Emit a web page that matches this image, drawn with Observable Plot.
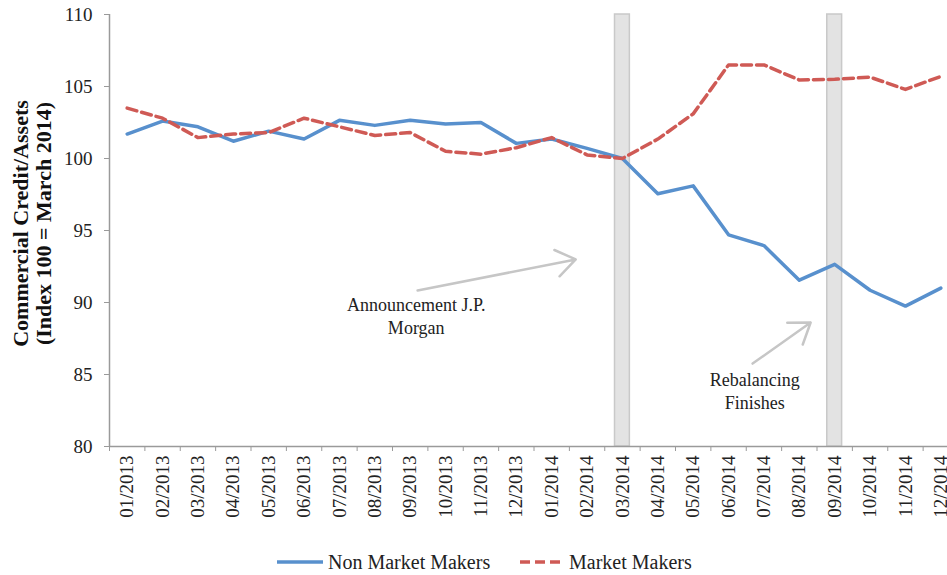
<!DOCTYPE html>
<html>
<head>
<meta charset="utf-8">
<script src="https://cdn.jsdelivr.net/npm/d3@7"></script>
<script src="https://cdn.jsdelivr.net/npm/@observablehq/plot@0.6"></script>
<style>
  html, body { margin: 0; padding: 0; background: #fff; overflow: hidden; }
  #wrap { position: relative; width: 947px; height: 575px; }
  #legend { position: absolute; top: 549px; left: 0; width: 947px; height: 26px;
            font-family: "Liberation Serif", serif; font-size: 20px; color: #222; }
  .item { position: absolute; top: 0; display: flex; align-items: center; height: 26px; }
  .item svg { margin-right: 5px; }
</style>
</head>
<body>
<div id="wrap">
  <div id="chart"></div>
  <div id="legend"></div>
</div>
<script>
const months = ["01/2013","02/2013","03/2013","04/2013","05/2013","06/2013","07/2013","08/2013","09/2013","10/2013","11/2013","12/2013",
                "01/2014","02/2014","03/2014","04/2014","05/2014","06/2014","07/2014","08/2014","09/2014","10/2014","11/2014","12/2014"];
const nonMarketMakers = [101.7, 102.6, 102.2, 101.2, 101.9, 101.35, 102.65, 102.3, 102.65, 102.4, 102.5, 101.05,
                         101.35, 100.7, 100.0, 97.55, 98.1, 94.7, 93.95, 91.55, 92.65, 90.85, 89.75, 91.0];
const marketMakers = [103.5, 102.8, 101.45, 101.7, 101.8, 102.8, 102.2, 101.6, 101.8, 100.5, 100.3, 100.75,
                      101.45, 100.25, 100.0, 101.35, 103.1, 106.5, 106.5, 105.45, 105.5, 105.65, 104.8, 105.7];
const yTicks = [80, 85, 90, 95, 100, 105, 110];
const seriesNames = ["Non Market Makers", "Market Makers"];
const seriesColors = ["#5890cd", "#cf5a55"];
const bandMonths = ["03/2014", "09/2014"];
const yTitle = "Commercial Credit/Assets\n(Index 100 = March 2014)";
const annotations = [
  {text: "Announcement J.P.\nMorgan", x: 8.17, y: 89.1},
  {text: "Rebalancing\nFinishes", x: 17.74, y: 83.9}
];
const arrows = [
  {x1: 8.21, y1: 90.83, x2: 12.68, y2: 92.99},
  {x1: 17.68, y1: 85.76, x2: 19.32, y2: 88.61}
];

const rowsNon = months.map((m, i) => ({i, v: nonMarketMakers[i]}));
const rowsMM = months.map((m, i) => ({i, v: marketMakers[i]}));
const bands = bandMonths.map(m => ({i: months.indexOf(m)}));
const boundaries = d3.range(months.length + 1).map(k => k - 0.5);

const H = 535;
const chart = Plot.plot({
  width: 947,
  height: H,
  marginLeft: 109,
  marginRight: 0,
  marginTop: 14,
  marginBottom: H - 446,
  style: {fontFamily: "Liberation Serif", fontSize: "18px", color: "#222", background: "#fff", overflow: "visible"},
  x: {type: "linear", domain: [-0.5, months.length - 0.5], range: [109, 958]},
  y: {domain: [80, 110], range: [446, 14]},
  marks: [
    Plot.rect(bands, {x1: d => d.i - 0.21, x2: d => d.i + 0.21, y1: 80, y2: 110, fill: "#e3e3e3", stroke: "#c9c9c9", strokeWidth: 1.5}),
    Plot.axisY({ticks: yTicks, tickSize: 5, tickPadding: 12, tickFormat: d => String(d), stroke: "#9a9a9a", label: null, fontSize: 19}),
    Plot.axisX({ticks: boundaries, tickSize: 5, tickFormat: () => "", stroke: "#9a9a9a", label: null}),
    Plot.axisX({ticks: d3.range(months.length), tickSize: 0, tickPadding: 9, tickRotate: -90, tickFormat: i => months[i], label: null, fontSize: 19}),
    Plot.ruleX([-0.5], {y1: 80, y2: 110, stroke: "#9a9a9a", strokeWidth: 1.5}),
    Plot.ruleY([80], {stroke: "#9a9a9a", strokeWidth: 1.5}),
    Plot.line(rowsNon, {x: "i", y: "v", stroke: seriesColors[0], strokeWidth: 3.5}),
    Plot.line(rowsMM, {x: "i", y: "v", stroke: seriesColors[1], strokeWidth: 3.5, strokeDasharray: "10,5"}),
    Plot.arrow(arrows, {x1: "x1", y1: "y1", x2: "x2", y2: "y2", stroke: "#c6c6c6", strokeWidth: 2.5, headLength: 14, headAngle: 70}),
    Plot.text(annotations, {x: "x", y: "y", text: "text", lineHeight: 1.25, fontSize: 18, fill: "#222", textAnchor: "middle", lineAnchor: "middle"}),
    Plot.text([yTitle], {frameAnchor: "left", dx: -77.5, dy: -7, rotate: -90, lineHeight: 1.07, fontSize: 22, fontWeight: "bold", fill: "#111", lineAnchor: "middle", textAnchor: "middle"})
  ]
});
document.getElementById("chart").appendChild(chart);

const legend = document.getElementById("legend");
const legendPos = [277, 520];
seriesNames.forEach((name, k) => {
  const item = document.createElement("div");
  item.className = "item";
  item.style.left = legendPos[k] + "px";
  const dash = k === 1 ? 'stroke-dasharray="10,5"' : '';
  item.innerHTML = `<svg width="${k === 1 ? 44 : 46}" height="6"><line x1="0" y1="3" x2="46" y2="3" stroke="${seriesColors[k]}" stroke-width="3.5" ${dash}/></svg><span>${name}</span>`;
  legend.appendChild(item);
});
</script>
</body>
</html>
